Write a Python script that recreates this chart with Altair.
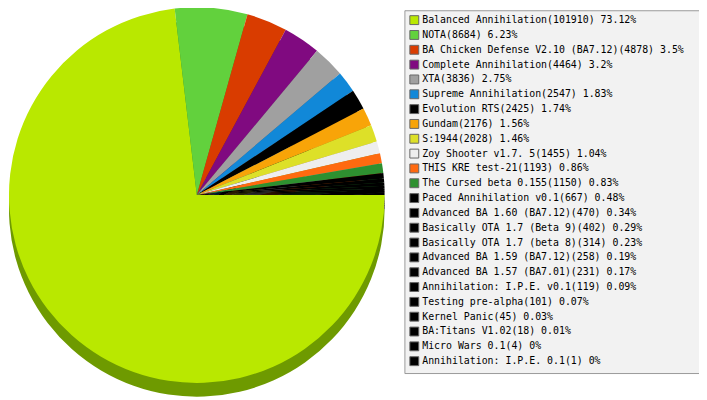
import math
import altair as alt
import pandas as pd

names = [
    "Balanced Annihilation", "NOTA", "BA Chicken Defense V2.10 (BA7.12)",
    "Complete Annihilation", "XTA", "Supreme Annihilation", "Evolution RTS",
    "Gundam", "S:1944", "Zoy Shooter v1.7. 5", "THIS KRE test-21",
    "The Cursed beta 0.155", "Paced Annihilation v0.1",
    "Advanced BA 1.60 (BA7.12)", "Basically OTA 1.7 (Beta 9)",
    "Basically OTA 1.7 (beta 8)", "Advanced BA 1.59 (BA7.12)",
    "Advanced BA 1.57 (BA7.01)", "Annihilation: I.P.E. v0.1",
    "Testing pre-alpha", "Kernel Panic", "BA:Titans V1.02", "Micro Wars 0.1",
    "Annihilation: I.P.E. 0.1",
]
counts = [101910, 8684, 4878, 4464, 3836, 2547, 2425, 2176, 2028, 1455, 1193,
          1150, 667, 470, 402, 314, 258, 231, 119, 101, 45, 18, 4, 1]
percents = ["73.12%", "6.23%", "3.5%", "3.2%", "2.75%", "1.83%", "1.74%",
            "1.56%", "1.46%", "1.04%", "0.86%", "0.83%", "0.48%", "0.34%",
            "0.29%", "0.23%", "0.19%", "0.17%", "0.09%", "0.07%", "0.03%",
            "0.01%", "0%", "0%"]

colors = ["#b9e800", "#62d13d", "#d93c00", "#800a80", "#a0a0a0", "#1188d8",
          "#000000", "#f8a408", "#dde028", "#eeeeee", "#ff6a10", "#2e9030"] + ["#000000"] * 12
shadow_colors = ["#6e9a00", "#3b8a24", "#8a2600", "#500550", "#666666", "#0b5a90",
                 "#000000", "#a86e05", "#94961a", "#9e9e9e", "#aa460a", "#1e6020"] + ["#000000"] * 12

labels = [f"{n}({c}) {p}" for n, c, p in zip(names, counts, percents)]
df = pd.DataFrame({"label": labels, "count": counts, "idx": list(range(len(labels)))})

R = 190
CX, CY = 191, 187
DEPTH = 14
theta_scale = alt.Scale(range=[math.pi / 2, math.pi / 2 + 2 * math.pi])

base = alt.Chart(df)

shadow = base.mark_arc(radius=R, strokeWidth=0).encode(
    theta=alt.Theta("count:Q", stack=True, scale=theta_scale),
    order=alt.Order("idx:Q"),
    color=alt.Color("label:N", scale=alt.Scale(domain=labels, range=shadow_colors),
                    legend=None),
    x=alt.value(CX),
    y=alt.value(CY + DEPTH),
)

top = base.mark_arc(radius=R, strokeWidth=0).encode(
    theta=alt.Theta("count:Q", stack=True, scale=theta_scale),
    order=alt.Order("idx:Q"),
    color=alt.Color(
        "label:N",
        scale=alt.Scale(domain=labels, range=colors),
        sort=labels,
        legend=alt.Legend(
            title=" ",
            titleOrient="right",
            titlePadding=17,
            titleFontSize=10,
            orient="none",
            legendX=401,
            legendY=0,
            padding=5,
            fillColor="#f2f2f2",
            strokeColor="#999999",
            symbolType="square",
            symbolSize=81,
            symbolStrokeColor="#666666",
            symbolStrokeWidth=1,
            labelFont="DejaVu Sans Mono",
            labelFontSize=10,
            labelColor="#000000",
            labelLimit=400,
            labelOffset=3,
            rowPadding=1,
            symbolLimit=0,
        ),
    ),
    x=alt.value(CX),
    y=alt.value(CY),
)

chart = alt.layer(shadow, top).resolve_scale(color="independent").properties(
    width=699, height=392, padding=0, autosize="none"
).configure_view(stroke=None)

chart.save("out.html", embed_options={"renderer": "svg", "actions": False})
